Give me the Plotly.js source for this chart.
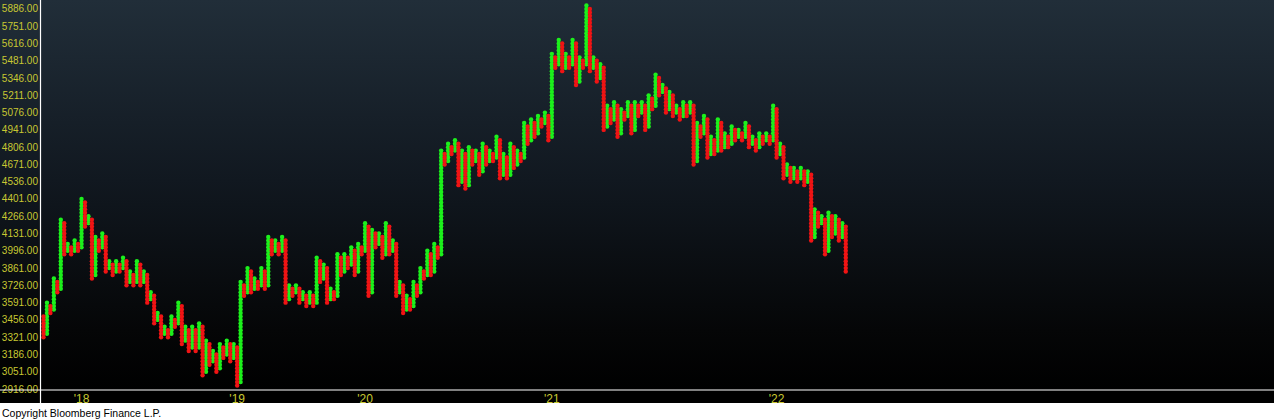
<!DOCTYPE html>
<html>
<head>
<meta charset="utf-8">
<script src="https://cdn.plot.ly/plotly-3.0.1.min.js"></script>
<style>
  html, body { margin:0; padding:0; }
  body { width:1274px; height:420px; overflow:hidden;
    background: linear-gradient(to bottom, #212e39 0px, #111820 180px, #050607 330px, #000 390px, #000 403px, #ffffff 403px, #ffffff 420px); }
  #chart { width:1274px; height:420px; }
</style>
</head>
<body>
<div id="chart"></div>
<script>
// Point & figure: box size and first column type (columns alternate O / X)
const boxSize = 27;
const firstColumnType = 'O';

// Top and bottom box price of each column, left to right
const colHigh = [
3483,3591,3564,3780,3753,4239,4212,4050,4023,4077,4050,4401,4374,4266,4239,4104,4077,4131,4104,3915,
3888,3915,3888,3942,3915,3834,3807,3915,3888,3834,3807,3672,3645,3510,3483,3402,3375,3483,3456,3591,
3564,3402,3375,3402,3375,3429,3402,3294,3267,3213,3186,3267,3240,3294,3267,3267,3240,3753,3726,3861,
3834,3780,3753,3861,3834,4104,4077,4077,4050,4104,4077,3726,3699,3726,3699,3672,3645,3672,3645,3942,
3915,3888,3861,3699,3672,3969,3942,3969,3942,4023,3996,4050,4023,4212,4185,4158,4131,4131,4104,4212,
4185,4077,4050,3753,3726,3645,3618,3753,3726,3861,3834,3996,3969,4050,4023,4779,4752,4833,4806,4860,
4833,4779,4752,4806,4779,4779,4752,4833,4806,4779,4752,4887,4860,4752,4725,4833,4806,4779,4752,4995,
4968,5022,4995,5049,5022,5076,5049,5535,5508,5643,5616,5535,5508,5643,5616,5508,5481,5913,5886,5508,
5481,5454,5427,5130,5103,5157,5130,5103,5076,5157,5130,5157,5130,5157,5130,5211,5184,5373,5346,5292,
5265,5238,5211,5130,5103,5157,5130,5157,5130,4995,4968,5049,5022,4887,4860,5022,4995,4914,4887,4968,
4941,4941,4914,4995,4968,4887,4860,4914,4887,4914,4887,5130,5103,4833,4806,4671,4644,4644,4617,4644,
4617,4617,4590,4320,4293,4266,4239,4293,4266,4266,4239,4212,4185
];
const colLow = [
3321,3348,3510,3537,3672,3699,3969,3996,3969,3996,3996,4023,4185,4212,3780,3807,3996,4023,3834,3861,
3807,3834,3834,3861,3726,3753,3726,3753,3726,3753,3591,3618,3429,3456,3321,3348,3321,3348,3402,3429,
3267,3294,3213,3240,3213,3240,3024,3051,3105,3132,3051,3078,3159,3186,3132,3159,2943,2970,3645,3672,
3672,3699,3699,3726,3699,3726,3969,3996,3969,3996,3591,3618,3645,3672,3591,3618,3564,3591,3564,3591,
3753,3780,3591,3618,3618,3645,3807,3834,3861,3888,3807,3834,3969,3996,3645,3672,4023,4050,3942,3969,
3969,3996,3645,3672,3510,3537,3537,3564,3645,3672,3780,3807,3807,3834,3942,3969,4671,4698,4752,4779,
4509,4536,4482,4509,4671,4698,4590,4617,4671,4698,4698,4725,4563,4590,4563,4590,4644,4671,4698,4725,
4833,4860,4887,4914,4968,4995,4860,4887,5427,5454,5400,5427,5427,5454,5292,5319,5427,5454,5400,5427,
5319,5346,4941,4968,4995,5022,4887,4914,5022,5049,4914,4941,5049,5076,4941,4968,5103,5130,5211,5238,
5076,5103,5049,5076,5022,5049,5049,5076,4671,4698,4887,4914,4725,4752,4752,4779,4779,4806,4806,4833,
4860,4887,4860,4887,4806,4833,4779,4806,4833,4860,4833,4860,4725,4752,4563,4590,4536,4563,4536,4563,
4509,4536,4077,4104,4185,4212,3969,3996,4104,4131,4077,4104,3834
];

// Date labels on the column axis
const yearTickCols = [11, 56, 93, 147, 212];
const yearTickText = ["'18", "'19", "'20", "'21", "'22"];

// Price axis labels
const priceTicks = [2916,3051,3186,3321,3456,3591,3726,3861,3996,4131,4266,4401,4536,4671,4806,4941,5076,5211,5346,5481,5616,5751,5886];

const xs = {X: [], O: []}, ys = {X: [], O: []};
for (let i = 0; i < colHigh.length; i++) {
  const type = (i % 2 === 0) ? firstColumnType : (firstColumnType === 'O' ? 'X' : 'O');
  for (let p = colLow[i]; p <= colHigh[i] + 0.001; p += boxSize) {
    xs[type].push(i);
    ys[type].push(p);
  }
}

const traces = [
  {type:'scatter', mode:'markers', x: xs.X, y: ys.X, name:'X', hoverinfo:'y',
   marker:{symbol:'circle', size:4.4, color:'#1cf01c', line:{width:0}}},
  {type:'scatter', mode:'markers', x: xs.O, y: ys.O, name:'O', hoverinfo:'y',
   marker:{symbol:'circle', size:4.4, color:'#f01414', line:{width:0}}}
];

const W = 1274, L = 41, R = 2, PW = W - L - R;
const colPx = 3.458;
const x0 = -(43.5 - L) / colPx;
const x1 = x0 + PW / colPx;

const layout = {
  width: W, height: 420,
  margin: {l: L, r: R, t: 0, b: 30},
  paper_bgcolor: 'rgba(0,0,0,0)',
  plot_bgcolor: 'rgba(0,0,0,0)',
  showlegend: false,
  font: {family: 'Liberation Sans, Arial, sans-serif'},
  xaxis: {
    range: [x0, x1], showgrid: false, zeroline: false, showline: false,
    tickmode: 'array', tickvals: yearTickCols, ticktext: yearTickText,
    ticks: '', tickfont: {size: 12, color: '#c8c832'}, ticklabelstandoff: 0
  },
  yaxis: {
    range: [2908.2, 5956], showgrid: false, zeroline: false, showline: false,
    tickmode: 'array', tickvals: priceTicks, tickformat: '.2f',
    ticks: '', tickfont: {size: 10, color: '#c8c832'}, ticklabelstandoff: 2
  },
  shapes: [
    {type:'line', xref:'paper', yref:'paper', x0: -L/PW, x1: 1 + R/PW, y0: 0, y1: 0,
     line:{color:'#ffffff', width:1.2}},
    {type:'line', xref:'paper', yref:'paper', x0: -0.0004, x1: -0.0004, y0: -13/390, y1: 1,
     line:{color:'#ffffff', width:1.2}}
  ],
  annotations: [
    {xref:'paper', yref:'paper', x: -L/PW, y: -22.5/390, xanchor:'left', yanchor:'middle',
     text:'Copyright Bloomberg Finance L.P.', showarrow:false,
     font:{size:10.5, color:'#000000', family:'Liberation Sans, Arial, sans-serif'}}
  ]
};

Plotly.newPlot('chart', traces, layout, {displayModeBar:false, staticPlot:true});
</script>
</body>
</html>
